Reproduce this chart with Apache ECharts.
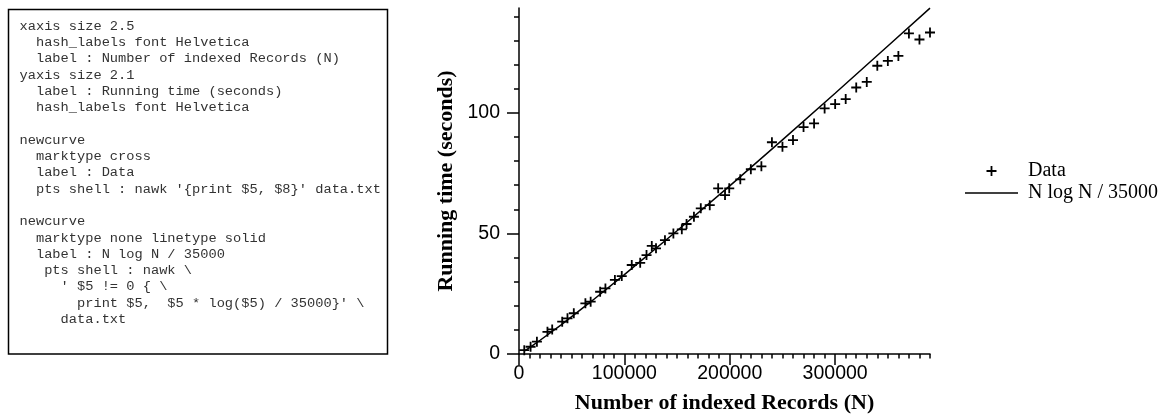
<!DOCTYPE html>
<html>
<head>
<meta charset="utf-8">
<script src="https://cdn.jsdelivr.net/npm/echarts@6/dist/echarts.min.js"></script>
<style>
  html, body { margin: 0; padding: 0; background: #fff; }
  #chart { width: 1169px; height: 419px; }
</style>
</head>
<body>
<div id="chart"></div>
<script>
// jgraph source shown in the left panel
const codeLines = [
  "xaxis size 2.5",
  "  hash_labels font Helvetica",
  "  label : Number of indexed Records (N)",
  "yaxis size 2.1",
  "  label : Running time (seconds)",
  "  hash_labels font Helvetica",
  "",
  "newcurve",
  "  marktype cross",
  "  label : Data",
  "  pts shell : nawk '{print $5, $8}' data.txt",
  "",
  "newcurve",
  "  marktype none linetype solid",
  "  label : N log N / 35000",
  "   pts shell : nawk \\",
  "     ' $5 != 0 { \\",
  "       print $5,  $5 * log($5) / 35000}' \\",
  "     data.txt"
];

// measured points (records, seconds)
const dataN = [
  5000, 11000, 17000, 27000, 31500, 41000, 46000, 52000, 63000, 68000,
  77000, 82000, 91000, 97500, 107000, 115000, 121000, 126000, 130000, 138500,
  146500, 154500, 159000, 166000, 172500, 181000, 189000, 195500, 199500, 210000,
  220000, 230000, 240000, 250000, 260000, 270000, 280000, 290000, 300000, 310000,
  320000, 330000, 340000, 350000, 360000, 370000, 380000, 390000
];
const dataSec = [
  1.6, 3.0, 5.1, 9.2, 10.2, 13.4, 14.8, 16.9, 21.0, 21.7,
  25.8, 27.2, 30.7, 32.3, 36.9, 37.8, 41.0, 44.8, 43.8, 47.2,
  50.0, 51.7, 53.9, 56.9, 60.4, 61.7, 68.7, 65.9, 68.7, 72.4,
  76.6, 77.8, 87.8, 85.9, 88.7, 94.1, 95.6, 101.8, 103.6, 105.7,
  110.5, 112.8, 119.5, 121.5, 123.6, 132.9, 130.4, 133.3
];

// N log N / 35000 curve
const fitN = [5000, 10000, 20000, 40000, 70000, 100000, 150000, 200000, 250000, 300000, 350000, 390000];
const fitSec = [1.2, 2.6, 5.7, 12.1, 22.3, 32.9, 51.1, 69.7, 88.8, 108.1, 127.7, 143.4];

const xMajorTicks = [0, 100000, 200000, 300000];
const xMinorTicks = [0, 10000, 20000, 30000, 40000, 50000, 60000, 70000, 80000, 90000,
  100000, 110000, 120000, 130000, 140000, 150000, 160000, 170000, 180000, 190000,
  200000, 210000, 220000, 230000, 240000, 250000, 260000, 270000, 280000, 290000,
  300000, 310000, 320000, 330000, 340000, 350000, 360000, 370000, 380000, 390000];
const yMajorTicks = [0, 50, 100];
const yMinorTicks = [0, 10, 20, 30, 40, 50, 60, 70, 80, 90, 100, 110, 120, 130, 140];

const X_MAX = 390000;
const Y_MAX = 143.45;

const plusIcon = "path://M4.1,0H5.9V4.1H10V5.9H5.9V10H4.1V5.9H0V4.1H4.1Z";
const lineIcon = "path://M0,0H53V1.5H0Z";
const SANS = "'Liberation Sans', Arial, sans-serif";
const SERIF = "'Liberation Serif', 'Times New Roman', serif";
const MONO = "'Liberation Mono', 'Courier New', monospace";

const chart = echarts.init(document.getElementById("chart"));

const codeText = codeLines.map((line, i) => ({
  type: "text",
  x: 19.5,
  y: 26 + i * 16.3,
  style: {
    text: line,
    font: "13.7px " + MONO,
    fill: "#333",
    textVerticalAlign: "middle"
  }
}));

const axisLine = { show: true, lineStyle: { color: "#000", width: 1.5 } };

chart.setOption({
  animation: false,
  grid: { left: 519, right: 239, top: 8, bottom: 65, outerBoundsMode: "none" },
  graphic: [
    {
      type: "rect",
      shape: { x: 8.5, y: 9.5, width: 379, height: 344.5 },
      style: { fill: "#fff", stroke: "#000", lineWidth: 1.5 }
    },
    ...codeText
  ],
  legend: {
    orient: "vertical",
    left: 965,
    top: 160,
    padding: 0,
    itemWidth: 53,
    itemHeight: 10,
    itemGap: 0,
    itemStyle: { color: "#000", opacity: 1 },
    textStyle: { fontFamily: SERIF, fontSize: 20, color: "#000", lineHeight: 22, padding: [0, 0, 0, 5] },
    data: [{ name: "Data", icon: plusIcon }, { name: "N log N / 35000", icon: lineIcon }]
  },
  xAxis: [
    {
      type: "value",
      min: 0,
      max: X_MAX,
      axisLine,
      axisTick: { show: true, customValues: xMajorTicks, length: 11, lineStyle: { color: "#000", width: 1.5 } },
      axisLabel: {
        customValues: xMajorTicks, margin: 10, color: "#000", fontFamily: SANS, fontSize: 19.5,
        formatter: (v) => String(v)
      },
      splitLine: { show: false },
      name: "Number of indexed Records (N)",
      nameLocation: "middle",
      nameGap: 38,
      nameTextStyle: { fontFamily: SERIF, fontWeight: "bold", fontSize: 22, color: "#000" }
    },
    {
      type: "value",
      min: 0,
      max: X_MAX,
      position: "bottom",
      axisLine: { show: false },
      axisTick: { show: true, customValues: xMinorTicks, length: 4.5, lineStyle: { color: "#000", width: 1.5 } },
      axisLabel: { show: false },
      splitLine: { show: false }
    }
  ],
  yAxis: [
    {
      type: "value",
      min: 0,
      max: Y_MAX,
      axisLine,
      axisTick: { show: true, customValues: yMajorTicks, length: 12, lineStyle: { color: "#000", width: 1.5 } },
      axisLabel: {
        customValues: yMajorTicks, margin: 19, color: "#000", fontFamily: SANS, fontSize: 19.5,
        formatter: (v) => String(v)
      },
      splitLine: { show: false },
      name: "Running time (seconds)",
      nameLocation: "middle",
      nameGap: 62,
      nameTextStyle: { fontFamily: SERIF, fontWeight: "bold", fontSize: 22, color: "#000" }
    },
    {
      type: "value",
      min: 0,
      max: Y_MAX,
      position: "left",
      axisLine: { show: false },
      axisTick: { show: true, customValues: yMinorTicks, length: 5, lineStyle: { color: "#000", width: 1.5 } },
      axisLabel: { show: false },
      splitLine: { show: false }
    }
  ],
  series: [
    {
      name: "Data",
      type: "scatter",
      symbol: plusIcon,
      symbolSize: 10,
      itemStyle: { color: "#000", opacity: 1 },
      data: dataN.map((n, i) => [n, dataSec[i]])
    },
    {
      name: "N log N / 35000",
      type: "line",
      symbol: "none",
      clip: false,
      itemStyle: { color: "#000" },
      lineStyle: { color: "#000", width: 1.5 },
      data: fitN.map((n, i) => [n, fitSec[i]])
    }
  ]
});
</script>
</body>
</html>
